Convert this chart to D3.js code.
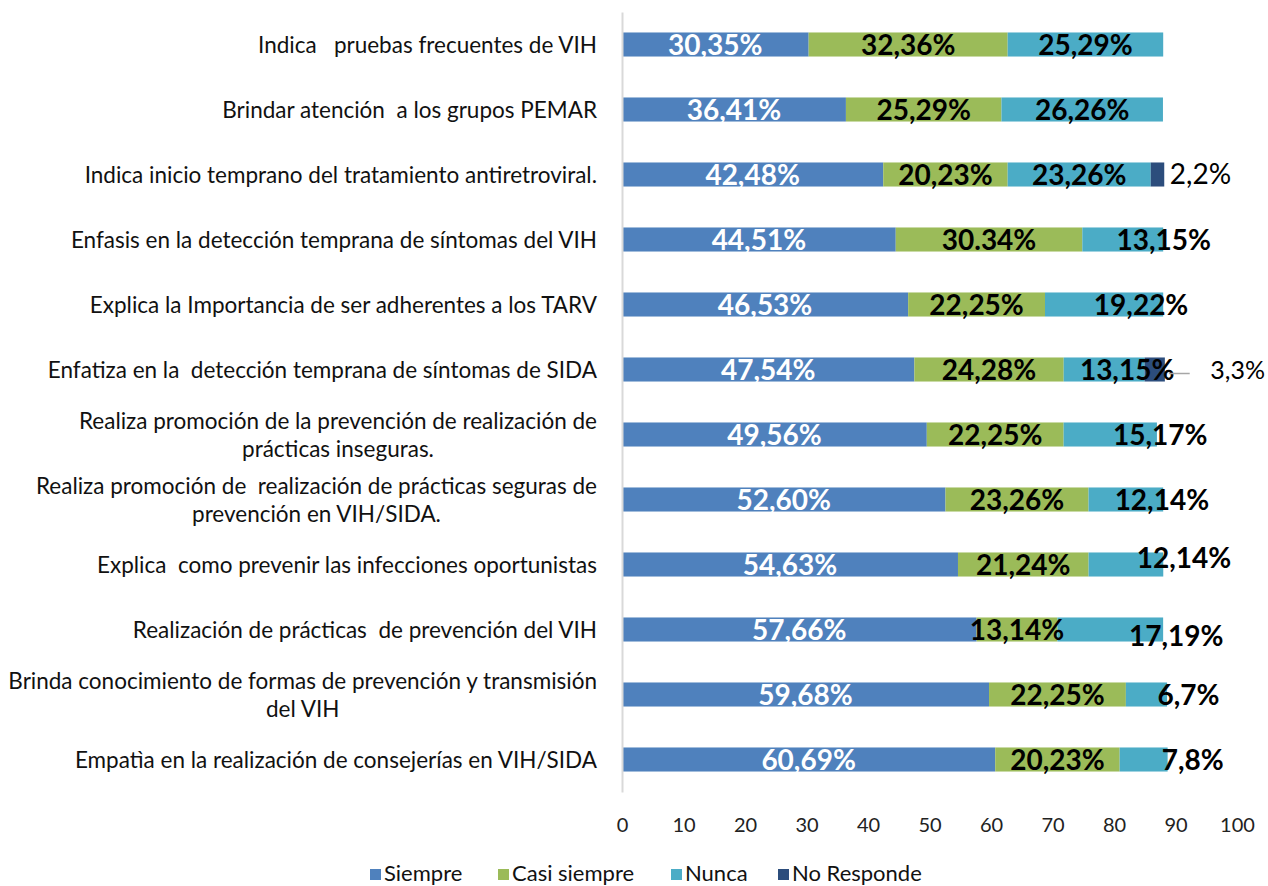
<!DOCTYPE html>
<html>
<head>
<meta charset="utf-8">
<script src="https://cdn.jsdelivr.net/npm/d3@7"></script>
<style>
  body { margin: 0; background: #fff; }
  text { font-family: Lato, "Liberation Sans", sans-serif; white-space: pre; }
</style>
</head>
<body>
<div id="chart"></div>
<script>
// categories, top to bottom
var categories = [
  "Indica   pruebas frecuentes de VIH",
  "Brindar atención  a los grupos PEMAR",
  "Indica inicio temprano del tratamiento antiretroviral.",
  "Enfasis en la detección temprana de síntomas del VIH",
  "Explica la Importancia de ser adherentes a los TARV",
  "Enfatiza en la  detección temprana de síntomas de SIDA",
  "Realiza promoción de la prevención de realización de\nprácticas inseguras.",
  "Realiza promoción de  realización de prácticas seguras de\nprevención en VIH/SIDA.",
  "Explica  como prevenir las infecciones oportunistas",
  "Realización de prácticas  de prevención del VIH",
  "Brinda conocimiento de formas de prevención y transmisión\ndel VIH",
  "Empatìa en la realización de consejerías en VIH/SIDA"
];

// series values, written as the labels show them
var siempre = ["30,35%", "36,41%", "42,48%", "44,51%", "46,53%", "47,54%",
  "49,56%", "52,60%", "54,63%", "57,66%", "59,68%", "60,69%"];
var casiSiempre = ["32,36%", "25,29%", "20,23%", "30.34%", "22,25%", "24,28%",
  "22,25%", "23,26%", "21,24%", "13,14%", "22,25%", "20,23%"];
var nunca = ["25,29%", "26,26%", "23,26%", "13,15%", "19,22%", "13,15%",
  "15,17%", "12,14%", "12,14%", "17,19%", "6,7%", "7,8%"];
var noResponde = ["", "", "2,2%", "", "", "3,3%", "", "", "", "", "", ""];

var seriesNames = ["Siempre", "Casi siempre", "Nunca", "No Responde"];
var xTicks = [0, 10, 20, 30, 40, 50, 60, 70, 80, 90, 100];

var colors = ["#4F81BD", "#9BBB59", "#4BACC6", "#2C4D7C"];

function num(s) {
  return s === "" ? 0 : parseFloat(s.replace(",", "."));
}

var rows = categories.map(function(c, i) {
  return {
    cat: c,
    "Siempre": num(siempre[i]),
    "Casi siempre": num(casiSiempre[i]),
    "Nunca": num(nunca[i]),
    "No Responde": num(noResponde[i]),
    labels: [siempre[i], casiSiempre[i], nunca[i], noResponde[i]]
  };
});

var svgWidth = 1268;
var svgHeight = 886;

var svg = d3.select("#chart")
  .append("svg")
  .attr("width", svgWidth)
  .attr("height", svgHeight);

var x = d3.scaleLinear()
  .domain([0, 100])
  .range([622, 1237]);

var y = d3.scaleBand()
  .domain(categories)
  .range([12, 792])
  .paddingInner(0.63)
  .paddingOuter(0.315);

var stacked = d3.stack().keys(seriesNames)(rows);

// bars
var layers = svg.selectAll("g.layer")
  .data(stacked)
  .enter()
  .append("g")
  .attr("class", "layer")
  .attr("fill", (d, i) => colors[i]);

layers.selectAll("rect")
  .data(d => d)
  .enter()
  .append("rect")
  .attr("x", d => x(d[0]))
  .attr("y", d => y(d.data.cat))
  .attr("width", d => x(d[1]) - x(d[0]))
  .attr("height", y.bandwidth());

// y axis line
svg.append("g")
  .attr("transform", "translate(622,0)")
  .call(d3.axisLeft(y).tickSize(0).tickSizeOuter(0).tickFormat(""))
  .call(g => g.select(".domain").attr("stroke", "#d9d9d9").attr("stroke-width", 2));

// category labels (multi-line ones centred as a block, block right-aligned)
var catGroup = svg.append("g");
categories.forEach(function(c) {
  var lines = c.split("\n");
  var cy = y(c) + y.bandwidth() / 2;
  var t = catGroup.append("text")
    .attr("text-anchor", "middle")
    .attr("font-size", 22.5)
    .attr("fill", "#111");
  lines.forEach(function(line, k) {
    t.append("tspan")
      .attr("y", cy + 8 - (lines.length - 1) * 14 + k * 28)
      .text(line);
  });
  var w = 0;
  t.selectAll("tspan").each(function() {
    w = Math.max(w, this.getComputedTextLength());
  });
  t.selectAll("tspan").attr("x", 597 - w / 2);
});

// x axis tick labels
svg.append("g")
  .attr("transform", "translate(0,818)")
  .call(d3.axisBottom(x).tickValues(xTicks).tickSize(0).tickPadding(0))
  .call(g => g.select(".domain").remove())
  .call(g => g.selectAll("text")
    .attr("font-size", 20)
    .attr("fill", "#222")
    .attr("font-family", "Lato, sans-serif"));

// data label nudges for the Nunca series (moved by hand in the original)
var nuncaShift = [[0, 0], [0, 0], [0, 0], [41, 0], [37, 0], [23, 0],
  [50, 0], [36, 0], [58, -7], [66, 6], [42, 0], [49, 0]];

// labels inside bars
stacked.forEach(function(layer, si) {
  if (si === 3) return;
  layer.forEach(function(d, ri) {
    var dx = si === 2 ? nuncaShift[ri][0] : 0;
    var dy = si === 2 ? nuncaShift[ri][1] : 0;
    svg.append("text")
      .attr("x", (x(d[0]) + x(d[1])) / 2 + dx)
      .attr("y", y(d.data.cat) + y.bandwidth() / 2 + 10 + dy)
      .attr("text-anchor", "middle")
      .attr("font-size", 28)
      .attr("font-weight", "bold")
      .attr("fill", si === 0 ? "#fff" : "#000")
      .text(d.data.labels[si]);
  });
});

// No Responde labels, outside the bars
var noRespShift = [0, 0, 43, 0, 0, 83, 0, 0, 0, 0, 0, 0];
var noRespSize = [0, 0, 28, 0, 0, 25, 0, 0, 0, 0, 0, 0];
stacked[3].forEach(function(d, ri) {
  if (d.data.labels[3] === "") return;
  var cx = (x(d[0]) + x(d[1])) / 2 + noRespShift[ri];
  var cy = y(d.data.cat) + y.bandwidth() / 2;
  if (noRespShift[ri] > 60) {
    svg.append("line")
      .attr("x1", x(d[1]) + 4)
      .attr("x2", cx - 48)
      .attr("y1", cy + 4)
      .attr("y2", cy + 4)
      .attr("stroke", "#a6a6a6")
      .attr("stroke-width", 1.5);
  }
  svg.append("text")
    .attr("x", cx)
    .attr("y", cy + 9)
    .attr("text-anchor", "middle")
    .attr("font-size", noRespSize[ri])
    .attr("fill", "#000")
    .text(d.data.labels[3]);
});

// legend
var legendX = [370, 498, 671, 778];
var legend = svg.append("g");
seriesNames.forEach(function(name, i) {
  legend.append("rect")
    .attr("x", legendX[i])
    .attr("y", 869)
    .attr("width", 11)
    .attr("height", 11)
    .attr("fill", colors[i]);
  legend.append("text")
    .attr("x", legendX[i] + 14)
    .attr("y", 881)
    .attr("font-size", 22)
    .attr("fill", "#111")
    .text(name);
});
</script>
</body>
</html>
